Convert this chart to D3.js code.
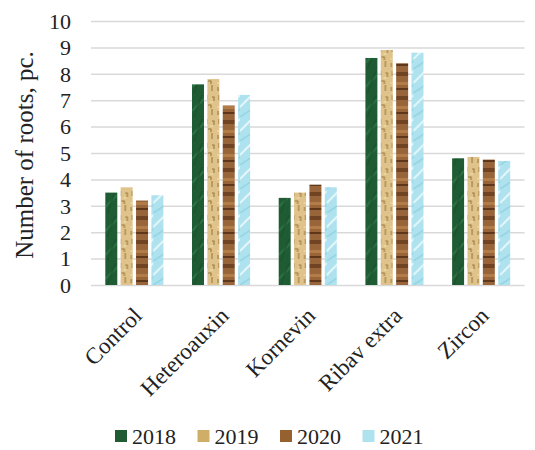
<!DOCTYPE html>
<html>
<head>
<meta charset="utf-8">
<script src="https://cdn.jsdelivr.net/npm/d3@7"></script>
<style>
  body { margin: 0; background: #fff; }
  svg text { font-family: "Liberation Serif", "DejaVu Serif", serif; fill: #222; }
</style>
</head>
<body>
<div id="chart"></div>
<script>
// data
const categories = ['Control', 'Heteroauxin', 'Kornevin', 'Ribav extra', 'Zircon'];
const years = ['2018', '2019', '2020', '2021'];
const v2018 = [3.5, 7.6, 3.3, 8.6, 4.8];
const v2019 = [3.7, 7.8, 3.5, 8.9, 4.85];
const v2020 = [3.2, 6.8, 3.8, 8.4, 4.75];
const v2021 = [3.4, 7.2, 3.7, 8.8, 4.7];
const yTicks = [0, 1, 2, 3, 4, 5, 6, 7, 8, 9, 10];

const seriesValues = [v2018, v2019, v2020, v2021];
const rows = categories.map((c, i) => ({
    cat: c,
    vals: years.map((y, j) => ({year: y, value: seriesValues[j][i]}))
}));

const W = 535, H = 450;
const margin = {top: 21, right: 10, bottom: 165, left: 91};
const plotW = 433.5;
const plotH = H - margin.top - margin.bottom;

const svg = d3.select('#chart').append('svg').attr('width', W).attr('height', H);

// textures for the bars
const defs = svg.append('defs');
function pat(id, base, draw) {
    const p = defs.append('pattern').attr('id', id).attr('patternUnits', 'userSpaceOnUse')
        .attr('width', 12).attr('height', 24);
    p.append('rect').attr('width', 12).attr('height', 24).attr('fill', base);
    draw(p);
}
pat('p2018', '#1f5c33', p => {
    p.append('path').attr('d', 'M0,18 L12,6').attr('stroke', '#2f7a48').attr('stroke-width', 2).attr('opacity', 0.7);
    p.append('path').attr('d', 'M2,24 L10,2').attr('stroke', '#174a28').attr('stroke-width', 1.5).attr('opacity', 0.6);
});
pat('p2019', '#dfc38a', p => {
    p.append('path').attr('d', 'M3,2 v5 M8,4 h2 v4 M4,12 h3 v3 M2,18 v4 M8,16 v6')
        .attr('stroke', '#9a7a3c').attr('stroke-width', 1.1).attr('fill', 'none');
    p.append('path').attr('d', 'M6,9 h3 M1,14 h2').attr('stroke', '#f2e2b0').attr('stroke-width', 1.2);
});
pat('p2020', '#98643a', p => {
    p.append('rect').attr('y', 3).attr('width', 12).attr('height', 4).attr('fill', '#704323');
    p.append('rect').attr('y', 13).attr('width', 12).attr('height', 3).attr('fill', '#b27c48');
    p.append('rect').attr('y', 19).attr('width', 12).attr('height', 2).attr('fill', '#5e361a');
});
pat('p2021', '#ade2ee', p => {
    p.append('path').attr('d', 'M0,14 L12,2').attr('stroke', '#e4f6fa').attr('stroke-width', 2);
    p.append('path').attr('d', 'M0,24 L12,16').attr('stroke', '#94d4e3').attr('stroke-width', 1.5);
});
const fills = {'2018': 'url(#p2018)', '2019': 'url(#p2019)', '2020': 'url(#p2020)', '2021': 'url(#p2021)'};
const legendFill = {'2018': '#1f5c33', '2019': '#cfae68', '2020': '#95612f', '2021': '#ade2ee'};

const g = svg.append('g').attr('transform', `translate(${margin.left},${margin.top})`);

// scales
const x0 = d3.scaleBand().domain(categories).range([0, plotW]).paddingInner(0.33).paddingOuter(0.165);
const x1 = d3.scaleBand().domain(years).range([0, x0.bandwidth()]).paddingInner(0.22).paddingOuter(0);
const y = d3.scaleLinear().domain([0, 10]).range([plotH, 0]);

// gridlines + y labels
const yAxis = d3.axisLeft(y).tickValues(yTicks).tickSize(-plotW).tickPadding(20).tickFormat(d3.format('d'));
const yAxisDraw = g.append('g').attr('class', 'y axis').call(yAxis);
yAxisDraw.select('.domain').remove();
yAxisDraw.selectAll('line').attr('stroke', '#d9d9d9').attr('stroke-width', 1.5);
yAxisDraw.selectAll('text').style('font-size', '22px').attr('dy', '0.33em');

// bars
const groups = g.append('g').attr('class', 'bars').selectAll('g').data(rows).join('g')
    .attr('transform', d => `translate(${x0(d.cat)},0)`);
groups.selectAll('rect').data(d => d.vals).join('rect')
    .attr('x', d => x1(d.year))
    .attr('y', d => y(d.value))
    .attr('width', x1.bandwidth())
    .attr('height', d => plotH - y(d.value))
    .attr('fill', d => fills[d.year]);

// x labels
const xAxis = d3.axisBottom(x0).tickSize(0).tickPadding(0);
const xAxisDraw = g.append('g').attr('class', 'x axis').attr('transform', `translate(0,${plotH})`).call(xAxis);
xAxisDraw.select('.domain').remove();
xAxisDraw.selectAll('text')
    .style('font-size', '23px')
    .attr('text-anchor', 'end')
    .attr('dy', 0)
    .attr('y', 0)
    .attr('transform', 'translate(9,32) rotate(-45)');

// y title
svg.append('text')
    .attr('transform', `translate(33,155) rotate(-90)`)
    .attr('text-anchor', 'middle')
    .style('font-size', '25px')
    .text('Number of roots, pc.');

// legend
const legend = svg.append('g').attr('class', 'legend').attr('transform', 'translate(115,436)');
const item = legend.selectAll('g').data(years).join('g')
    .attr('transform', (d, i) => `translate(${i * 82.5},0)`);
item.append('rect').attr('x', 0).attr('y', -6).attr('width', 12).attr('height', 12)
    .attr('fill', d => legendFill[d]);
item.append('text').attr('x', 17).attr('dy', '0.35em').style('font-size', '22px').text(d => d);
</script>
</body>
</html>
